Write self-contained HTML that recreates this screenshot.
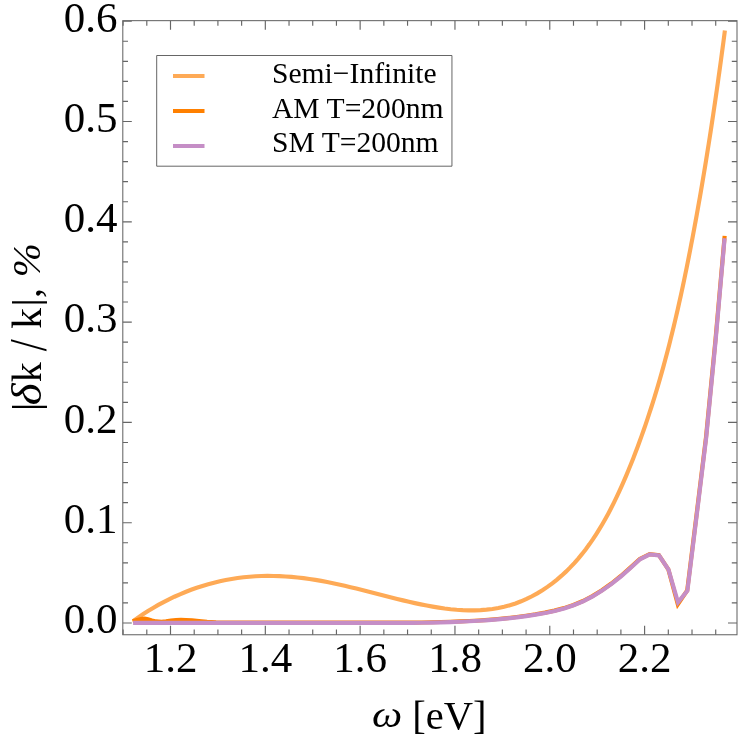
<!DOCTYPE html>
<html><head><meta charset="utf-8"><title>plot</title>
<style>
html,body{margin:0;padding:0;background:#fff;}
svg{display:block;will-change:transform;}
text{font-family:"Liberation Serif",serif;fill:#000;}
</style></head><body>
<svg width="747" height="747" viewBox="0 0 747 747">
<rect x="0" y="0" width="747" height="747" fill="#fff"/>
<g fill="none" stroke-width="4.15" stroke-linejoin="miter" stroke-miterlimit="10" stroke-linecap="butt">
<path d="M133.10,621.20 L137.97,617.70 L142.92,614.31 L147.97,611.06 L153.10,607.93 L158.32,604.93 L163.60,602.06 L168.97,599.33 L174.40,596.74 L179.89,594.29 L185.45,591.98 L191.07,589.82 L196.74,587.80 L202.45,585.93 L208.22,584.22 L214.02,582.66 L219.87,581.26 L225.74,580.03 L231.65,578.95 L237.59,578.04 L243.54,577.30 L249.52,576.72 L255.51,576.30 L261.51,576.04 L267.52,575.93 L273.53,575.97 L279.54,576.15 L285.54,576.46 L291.54,576.90 L297.52,577.47 L303.49,578.16 L309.43,578.96 L315.35,579.88 L321.25,580.89 L327.14,582.00 L333.00,583.19 L338.85,584.45 L344.69,585.78 L350.52,587.16 L356.34,588.58 L362.16,590.03 L367.98,591.52 L373.80,593.01 L379.63,594.51 L385.47,596.01 L391.31,597.50 L397.17,598.96 L403.05,600.39 L408.95,601.78 L414.86,603.11 L420.80,604.38 L426.75,605.57 L432.72,606.66 L438.70,607.64 L444.68,608.49 L450.68,609.20 L456.67,609.76 L462.66,610.14 L468.65,610.34 L474.63,610.34 L480.60,610.12 L486.54,609.67 L492.45,608.97 L498.31,608.01 L504.12,606.78 L509.86,605.25 L515.53,603.42 L521.11,601.31 L526.60,598.91 L531.99,596.26 L537.26,593.36 L542.41,590.22 L547.43,586.88 L552.30,583.33 L557.02,579.60 L561.58,575.70 L565.98,571.63 L570.23,567.42 L574.33,563.06 L578.29,558.56 L582.12,553.94 L585.81,549.20 L589.37,544.34 L592.82,539.39 L596.14,534.35 L599.36,529.22 L602.47,524.02 L605.47,518.75 L608.38,513.42 L611.20,508.04 L613.92,502.62 L616.57,497.18 L619.14,491.70 L621.64,486.20 L624.06,480.67 L626.43,475.13 L628.74,469.57 L631.00,463.99 L633.21,458.40 L635.37,452.79 L637.49,447.17 L639.58,441.54 L641.62,435.90 L643.62,430.24 L645.58,424.58 L647.50,418.90 L649.38,413.21 L651.23,407.51 L653.04,401.80 L654.82,396.08 L656.56,390.35 L658.27,384.61 L659.94,378.86 L661.58,373.10 L663.19,367.33 L664.77,361.55 L666.32,355.76 L667.85,349.97 L669.34,344.16 L670.81,338.35 L672.25,332.53 L673.66,326.70 L675.05,320.87 L676.42,315.02 L677.76,309.17 L679.08,303.32 L680.38,297.46 L681.66,291.59 L682.92,285.71 L684.16,279.83 L685.38,273.95 L686.58,268.05 L687.77,262.16 L688.94,256.25 L690.09,250.35 L691.23,244.44 L692.36,238.52 L693.47,232.60 L694.58,226.68 L695.67,220.75 L696.74,214.82 L697.81,208.89 L698.86,202.95 L699.90,197.02 L700.93,191.08 L701.95,185.13 L702.96,179.19 L703.95,173.24 L704.93,167.29 L705.91,161.34 L706.87,155.39 L707.82,149.44 L708.76,143.49 L709.70,137.54 L710.62,131.59 L711.53,125.63 L712.43,119.68 L713.32,113.73 L714.20,107.78 L715.08,101.83 L715.94,95.88 L716.80,89.94 L717.65,83.99 L718.48,78.05 L719.31,72.11 L720.13,66.17 L720.95,60.23 L721.75,54.30 L722.55,48.37 L723.34,42.44 L724.12,36.52 L724.90,30.60" stroke="#FEAA56"/>
<path d="M132.60,621.30 L137.00,620.00 L141.00,619.10 L144.70,618.70 L148.00,619.30 L152.00,620.40 L156.00,621.40 L161.50,621.90 L166.00,621.40 L171.00,620.60 L176.00,620.10 L181.00,619.90 L186.00,620.00 L192.00,620.40 L199.00,621.10 L207.00,621.90 L216.00,622.35 L230.00,622.50 L412.28,622.60 L421.76,622.46 L431.24,622.26 L440.72,622.04 L450.20,621.76 L459.68,621.41 L469.16,620.99 L478.64,620.46 L488.12,619.82 L497.60,619.05 L507.08,618.13 L516.56,617.04 L526.04,615.77 L535.52,614.31 L545.00,612.62 L554.48,610.61 L563.96,608.12 L573.44,604.97 L582.92,601.00 L592.40,596.11 L601.88,590.29 L611.36,583.56 L620.84,575.99 L630.32,567.67 L639.80,559.00 L649.60,554.20 L658.90,555.20 L668.30,569.30 L677.80,604.30 L687.20,590.40 L696.50,515.00 L706.00,437.20 L715.50,339.40 L724.65,235.90" stroke="#FF8000"/>
<path d="M133.10,622.90 L412.48,622.90 L421.96,622.76 L431.44,622.56 L440.92,622.34 L450.40,622.06 L459.88,621.71 L469.36,621.29 L478.84,620.76 L488.32,620.12 L497.80,619.35 L507.28,618.43 L516.76,617.34 L526.24,616.07 L535.72,614.61 L545.20,612.92 L554.68,610.91 L564.16,608.42 L573.64,605.27 L583.12,601.30 L592.60,596.41 L602.08,590.59 L611.56,583.86 L621.04,576.29 L630.52,567.97 L640.00,559.30 L649.80,554.50 L659.10,555.50 L668.50,569.60 L678.00,602.30 L687.40,590.70 L696.70,515.30 L706.20,437.50 L715.70,339.70 L724.60,238.20" stroke="#C58EC6"/>
</g>
<rect x="122.8" y="20.65" width="614.2" height="614.1" fill="none" stroke="#666" stroke-width="1.05"/>
<path d="M123.09,634.75 v-5.2 M123.09,20.65 v5.2 M146.80,634.75 v-5.2 M146.80,20.65 v5.2 M170.50,634.75 v-9.0 M170.50,20.65 v9.0 M194.21,634.75 v-5.2 M194.21,20.65 v5.2 M217.91,634.75 v-5.2 M217.91,20.65 v5.2 M241.62,634.75 v-5.2 M241.62,20.65 v5.2 M265.32,634.75 v-9.0 M265.32,20.65 v9.0 M289.03,634.75 v-5.2 M289.03,20.65 v5.2 M312.73,634.75 v-5.2 M312.73,20.65 v5.2 M336.44,634.75 v-5.2 M336.44,20.65 v5.2 M360.14,634.75 v-9.0 M360.14,20.65 v9.0 M383.85,634.75 v-5.2 M383.85,20.65 v5.2 M407.55,634.75 v-5.2 M407.55,20.65 v5.2 M431.26,634.75 v-5.2 M431.26,20.65 v5.2 M454.96,634.75 v-9.0 M454.96,20.65 v9.0 M478.67,634.75 v-5.2 M478.67,20.65 v5.2 M502.37,634.75 v-5.2 M502.37,20.65 v5.2 M526.08,634.75 v-5.2 M526.08,20.65 v5.2 M549.78,634.75 v-9.0 M549.78,20.65 v9.0 M573.49,634.75 v-5.2 M573.49,20.65 v5.2 M597.19,634.75 v-5.2 M597.19,20.65 v5.2 M620.90,634.75 v-5.2 M620.90,20.65 v5.2 M644.60,634.75 v-9.0 M644.60,20.65 v9.0 M668.31,634.75 v-5.2 M668.31,20.65 v5.2 M692.01,634.75 v-5.2 M692.01,20.65 v5.2 M715.72,634.75 v-5.2 M715.72,20.65 v5.2 M122.8,623.00 h9.0 M737.0,623.00 h-9.0 M122.8,602.94 h5.2 M737.0,602.94 h-5.2 M122.8,582.88 h5.2 M737.0,582.88 h-5.2 M122.8,562.82 h5.2 M737.0,562.82 h-5.2 M122.8,542.76 h5.2 M737.0,542.76 h-5.2 M122.8,522.70 h9.0 M737.0,522.70 h-9.0 M122.8,502.64 h5.2 M737.0,502.64 h-5.2 M122.8,482.58 h5.2 M737.0,482.58 h-5.2 M122.8,462.52 h5.2 M737.0,462.52 h-5.2 M122.8,442.46 h5.2 M737.0,442.46 h-5.2 M122.8,422.40 h9.0 M737.0,422.40 h-9.0 M122.8,402.34 h5.2 M737.0,402.34 h-5.2 M122.8,382.28 h5.2 M737.0,382.28 h-5.2 M122.8,362.22 h5.2 M737.0,362.22 h-5.2 M122.8,342.16 h5.2 M737.0,342.16 h-5.2 M122.8,322.10 h9.0 M737.0,322.10 h-9.0 M122.8,302.04 h5.2 M737.0,302.04 h-5.2 M122.8,281.98 h5.2 M737.0,281.98 h-5.2 M122.8,261.92 h5.2 M737.0,261.92 h-5.2 M122.8,241.86 h5.2 M737.0,241.86 h-5.2 M122.8,221.80 h9.0 M737.0,221.80 h-9.0 M122.8,201.74 h5.2 M737.0,201.74 h-5.2 M122.8,181.68 h5.2 M737.0,181.68 h-5.2 M122.8,161.62 h5.2 M737.0,161.62 h-5.2 M122.8,141.56 h5.2 M737.0,141.56 h-5.2 M122.8,121.50 h9.0 M737.0,121.50 h-9.0 M122.8,101.44 h5.2 M737.0,101.44 h-5.2 M122.8,81.38 h5.2 M737.0,81.38 h-5.2 M122.8,61.32 h5.2 M737.0,61.32 h-5.2 M122.8,41.26 h5.2 M737.0,41.26 h-5.2 M122.8,21.20 h9.0 M737.0,21.20 h-9.0" fill="none" stroke="#666" stroke-width="1.15"/>
<text x="117.5" y="633.3" text-anchor="end" font-size="43">0.0</text>
<text x="117.5" y="533.0" text-anchor="end" font-size="43">0.1</text>
<text x="117.5" y="432.7" text-anchor="end" font-size="43">0.2</text>
<text x="117.5" y="332.4" text-anchor="end" font-size="43">0.3</text>
<text x="117.5" y="232.1" text-anchor="end" font-size="43">0.4</text>
<text x="117.5" y="131.8" text-anchor="end" font-size="43">0.5</text>
<text x="117.5" y="31.5" text-anchor="end" font-size="43">0.6</text>
<text x="170.5" y="671.6" text-anchor="middle" font-size="43">1.2</text>
<text x="265.3" y="671.6" text-anchor="middle" font-size="43">1.4</text>
<text x="360.1" y="671.6" text-anchor="middle" font-size="43">1.6</text>
<text x="455.0" y="671.6" text-anchor="middle" font-size="43">1.8</text>
<text x="549.8" y="671.6" text-anchor="middle" font-size="43">2.0</text>
<text x="644.6" y="671.6" text-anchor="middle" font-size="43">2.2</text>
<text transform="translate(372.09,727.23) scale(1.0714,0.9342)" font-size="40.0" font-style="italic">ω</text>
<text x="486.5" y="728.7" text-anchor="end" font-size="40.6">[eV]</text>
<text transform="rotate(-90) translate(-411.05,38.69) scale(1.0375,0.9615)" font-size="40.0">|</text>
<text transform="rotate(-90) translate(-405.26,41.18) scale(1.1748,1.0437)" font-size="40.0" font-style="italic">δ</text>
<text transform="rotate(-90) translate(-382.36,41.00) scale(1.0031,1.0447)" font-size="40.0">k</text>
<text transform="rotate(-90) translate(-351.30,46.48) scale(1.0881,1.3079)" font-size="40.0">/</text>
<text transform="rotate(-90) translate(-328.79,41.00) scale(1.0343,1.0447)" font-size="40.0">k</text>
<text transform="rotate(-90) translate(-306.55,38.69) scale(1.0375,0.9615)" font-size="40.0">|</text>
<text transform="rotate(-90) translate(-298.12,40.23) scale(1.0000,1.0019)" font-size="40.0">,</text>
<text transform="rotate(-90) translate(-277.24,40.48) scale(1.0257,0.9956)" font-size="40.0" font-style="italic">%</text>
<rect x="156.7" y="55.5" width="295.25" height="110.7" fill="#fff" stroke="#555" stroke-width="0.9" stroke-linejoin="round"/>
<rect x="173" y="74" width="31.5" height="4" fill="#FEAA56"/>
<text x="272.0" y="83.0" font-size="29.6">Semi−Infinite</text>
<rect x="173" y="109" width="31.5" height="4" fill="#FF8000"/>
<text x="272.0" y="117.9" font-size="29.6">AM T=200nm</text>
<rect x="173" y="144" width="31.5" height="4" fill="#C58EC6"/>
<text x="272.0" y="152.4" font-size="29.6">SM T=200nm</text>
</svg>
</body></html>
